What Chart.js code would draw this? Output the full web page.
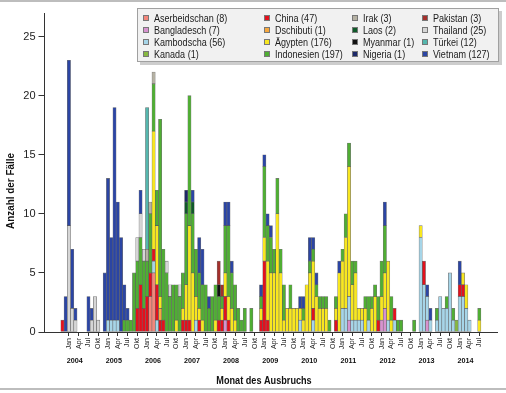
<!DOCTYPE html>
<html lang="de">
<head>
<meta charset="utf-8">
<title>Humane H5N1-Fälle nach Monat des Ausbruchs</title>
<script src="https://cdn.jsdelivr.net/npm/chart.js@4.4.1/dist/chart.umd.min.js"></script>
<style>
  html, body { margin:0; padding:0; background:#fff; }
  .wrap { position:relative; width:506px; height:393px; overflow:hidden; font-family:"Liberation Sans", Arial, sans-serif; }
  .wrap canvas { position:absolute; left:0; top:0; }
  .rule { position:absolute; left:0; width:506px; height:2px; background:#bdbdbd; }
  .legend { position:absolute; left:137px; top:8px; width:360px; height:52px; background:#f1f1f1; border:1px solid #a0a0a0; box-shadow:3px 3px 0 #cdcdcd; }
  .item { position:absolute; height:12px; line-height:12px; font-size:10.5px; color:#1a1a1a; white-space:nowrap; }
  .sw { position:absolute; left:0; top:3px; width:6px; height:6px; border:1px solid #777; box-sizing:border-box; }
  .txt { position:absolute; left:11px; top:0; transform:scaleX(0.86); transform-origin:left center; }
</style>
</head>
<body>
<div class="wrap">
  <canvas id="chart" width="506" height="393"></canvas>
  <div class="rule" style="top:0"></div>
  <div class="rule" style="top:388px"></div>
  <div class="legend" id="legend"></div>
</div>
<script>
// ---------- Data (cases per month of outbreak) ----------
const countries = ['Aserbeidschan','Bangladesch','Kambodscha','Kanada','China','Dschibuti','Ägypten','Indonesien',
                   'Irak','Laos','Myanmar','Nigeria','Pakistan','Thailand','Türkei','Vietnam'];
const caseCounts = [8, 7, 56, 1, 47, 1, 176, 197, 3, 2, 1, 1, 3, 25, 12, 127];
const colors = ['#f3867a','#d792cf','#a6d5e8','#86b840','#e3111d','#f7a83e','#f8e71f','#4fae33',
                '#b5b1a3','#0f5a2a','#111111','#1c2868','#a3302c','#d6d6d6','#55b7ae','#2b45a4'];

const aserbeidschan = [['2006-02',3],['2006-03',5]];
const bangladesch = [['2008-01',1],['2011-03',1],['2012-01',1],['2012-02',2],['2013-03',1]];
const kambodscha = [['2005-01',1],['2005-02',1],['2005-03',1],['2005-04',1],['2006-03',1],['2006-04',1],['2007-04',1],
  ['2009-12',1],['2010-04',1],['2011-01',2],['2011-02',2],['2011-03',2],['2011-04',1],['2011-05',1],['2011-06',1],
  ['2011-07',1],['2011-09',1],['2012-03',1],['2012-05',1],['2013-01',8],['2013-02',4],['2013-03',2],
  ['2013-04',1],['2013-06',1],['2013-07',3],['2013-08',2],['2013-09',2],['2013-10',5],['2013-11',1],
  ['2014-01',3],['2014-02',3],['2014-03',2],['2014-04',1]];
const kanada = [['2013-12',1]];
const china = [['2003-11',1],['2005-10',2],['2005-11',4],['2005-12',2],['2006-01',3],['2006-02',2],['2006-03',1],
  ['2006-04',3],['2006-05',1],['2006-06',1],['2006-12',1],['2007-01',1],['2007-02',1],['2007-05',1],['2007-11',1],
  ['2007-12',1],['2008-01',2],['2008-02',1],['2008-12',1],['2009-01',6],['2009-02',1],['2010-04',1],['2010-11',1],
  ['2011-12',1],['2012-05',1],['2013-02',2],['2014-01',1],['2014-02',1]];
const dschibuti = [['2006-05',1]];
const aegypten = [['2006-03',10],['2006-04',5],['2006-05',1],['2006-10',1],['2006-12',1],
  ['2007-01',3],['2007-02',8],['2007-03',5],['2007-04',2],['2007-05',1],['2007-06',1],['2007-10',1],['2007-12',1],
  ['2008-01',2],['2008-02',2],['2008-03',2],['2008-04',1],['2008-12',1],
  ['2009-01',2],['2009-02',5],['2009-03',5],['2009-04',5],['2009-05',10],['2009-06',5],['2009-07',1],['2009-08',2],
  ['2009-09',2],['2009-10',2],['2009-11',2],['2009-12',1],
  ['2010-01',1],['2010-02',4],['2010-03',5],['2010-04',4],['2010-05',3],['2010-06',2],['2010-07',2],['2010-08',2],
  ['2010-11',1],['2010-12',5],
  ['2011-01',4],['2011-02',6],['2011-03',11],['2011-04',3],['2011-05',4],['2011-06',1],['2011-07',1],['2011-08',2],
  ['2011-10',2],['2011-11',3],
  ['2012-01',2],['2012-02',3],['2012-03',5],['2012-04',1],['2013-01',1],['2014-02',1],['2014-03',2],['2014-07',1]];
const indonesien = [['2005-06',1],['2005-07',1],['2005-08',1],['2005-09',5],['2005-10',4],['2005-11',4],['2005-12',4],
  ['2006-01',3],['2006-02',5],['2006-03',4],['2006-04',3],['2006-05',15],['2006-06',6],['2006-07',5],['2006-08',3],
  ['2006-09',4],['2006-10',3],['2006-11',3],['2006-12',3],
  ['2007-01',6],['2007-02',11],['2007-03',5],['2007-04',4],['2007-05',3],['2007-06',3],['2007-07',4],['2007-08',2],
  ['2007-09',3],['2007-10',3],['2007-11',2],['2007-12',1],
  ['2008-01',4],['2008-02',6],['2008-03',3],['2008-04',3],['2008-05',2],['2008-06',1],['2008-07',2],['2008-09',2],['2008-12',1],
  ['2009-01',6],['2009-02',3],['2009-03',3],['2009-04',2],['2009-05',3],['2009-06',2],['2009-07',3],['2009-09',2],
  ['2010-01',1],['2010-03',1],['2010-04',1],['2010-05',1],['2010-06',1],['2010-07',1],['2010-08',1],['2010-09',1],['2010-11',1],
  ['2011-01',1],['2011-02',2],['2011-03',2],['2011-04',2],['2011-05',1],['2011-08',1],['2011-09',2],['2011-10',1],
  ['2011-11',1],['2011-12',2],
  ['2012-01',3],['2012-02',4],['2012-04',2],['2012-06',1],['2012-07',1],['2012-11',1],
  ['2013-06',1],['2013-09',1],['2013-11',1],['2014-07',1]];
const irak = [['2006-01',1],['2006-02',1],['2006-03',1]];
const laos = [['2007-01',1],['2007-03',1]];
const myanmar = [['2007-11',1]];
const nigeria = [['2007-01',1]];
const pakistan = [['2007-11',2],['2007-12',1]];
const thailand = [['2004-01',9],['2004-02',2],['2004-03',1],['2004-08',1],['2004-09',3],['2004-10',1],
  ['2005-10',2],['2005-11',2],['2005-12',1],['2006-07',1],['2006-08',1],['2006-11',1]];
const tuerkei = [['2006-01',12]];
const vietnam = [['2003-12',3],['2004-01',14],['2004-02',5],['2004-03',1],['2004-07',3],['2004-08',1],['2004-12',5],
  ['2005-01',12],['2005-02',7],['2005-03',18],['2005-04',10],['2005-05',8],['2005-06',3],['2005-07',1],['2005-11',2],
  ['2007-03',1],['2007-05',3],['2007-06',3],['2007-08',1],['2008-01',2],['2008-02',2],['2008-03',1],['2008-12',1],
  ['2009-01',1],['2009-02',1],['2009-03',1],['2009-12',1],['2010-01',1],['2010-03',2],['2010-04',1],['2010-05',1],
  ['2010-12',1],['2012-02',2],['2013-03',1],['2013-04',1],['2014-01',2]];

const series = [aserbeidschan, bangladesch, kambodscha, kanada, china, dschibuti, aegypten, indonesien,
                irak, laos, myanmar, nigeria, pakistan, thailand, tuerkei, vietnam];

// axis: Jun 2003 .. Dec 2014, labelled quarterly from Jan 2004 to Jul 2014
const axisStart = [2003, 6];
const axisEnd = [2014, 12];
const quarterNames = {1:'Jan', 4:'Apr', 7:'Jul', 10:'Okt'};
const years = [2004, 2005, 2006, 2007, 2008, 2009, 2010, 2011, 2012, 2013, 2014];
const firstTick = '2004-01', lastTick = '2014-07';

// ---------- Build ----------
const monthKeys = [];
for (let y = axisStart[0], m = axisStart[1]; y < axisEnd[0] || (y === axisEnd[0] && m <= axisEnd[1]); ){
  monthKeys.push(`${y}-${String(m).padStart(2,'0')}`);
  m++; if (m > 12){ m = 1; y++; }
}
const tickFrom = monthKeys.indexOf(firstTick), tickTo = monthKeys.indexOf(lastTick);
const isTick = (i)=> i >= tickFrom && i <= tickTo && quarterNames[Number(monthKeys[i].slice(5))];

function dense(pairs){
  const a = monthKeys.map(()=>null);
  pairs.forEach(([k,v])=>{ a[monthKeys.indexOf(k)] = v; });
  return a;
}

// HTML legend, column-wise 4x4 like the original
const legendCols = [5, 125.5, 213.5, 283.5];
const legendRows = [2.5, 15, 26.5, 38.5];
const legendEl = document.getElementById('legend');
countries.forEach((name, i)=>{
  const it = document.createElement('div');
  it.className = 'item';
  it.style.left = legendCols[Math.floor(i/4)] + 'px';
  it.style.top = legendRows[i%4] + 'px';
  it.innerHTML = `<span class="sw" style="background:${colors[i]}"></span><span class="txt">${name} (${caseCounts[i]})</span>`;
  legendEl.appendChild(it);
});

function narrowText(ctx, text, x, y, k, rot){
  ctx.save();
  ctx.translate(x, y);
  if (rot) ctx.rotate(rot);
  ctx.scale(k, 1);
  ctx.fillText(text, 0, 0);
  ctx.restore();
}

const axisText = {
  id: 'axisText',
  afterDraw(chart){
    const {ctx} = chart;
    const x = chart.scales.x;
    const step = x.getPixelForValue(1) - x.getPixelForValue(0);
    ctx.save();
    ctx.fillStyle = '#111';
    ctx.textAlign = 'center';
    ctx.textBaseline = 'middle';
    ctx.font = 'bold 8px "Liberation Sans", Arial, sans-serif';
    years.forEach(yr=>{
      const i = monthKeys.indexOf(`${yr}-01`);
      narrowText(ctx, String(yr), x.getPixelForValue(i) + 1.8*step, 361, 0.9);
    });
    ctx.font = 'bold 11px "Liberation Sans", Arial, sans-serif';
    narrowText(ctx, 'Monat des Ausbruchs', 264, 381, 0.83);
    narrowText(ctx, 'Anzahl der Fälle', 11, 191, 0.9, -Math.PI/2);
    ctx.restore();
  }
};

Chart.defaults.font.family = '"Liberation Sans", Arial, sans-serif';
Chart.defaults.color = '#222';

new Chart(document.getElementById('chart'), {
  type: 'bar',
  data: {
    labels: monthKeys,
    datasets: series.map((s, i)=>({
      label: countries[i],
      data: dense(s),
      backgroundColor: colors[i],
      borderColor: 'rgba(70,70,70,0.75)',
      borderWidth: 0.6,
      borderSkipped: false,
      barPercentage: 1,
      categoryPercentage: 1
    }))
  },
  options: {
    responsive: false,
    animation: false,
    devicePixelRatio: 1,
    layout: {padding: {top: 13, right: 7.4, left: 0, bottom: 0}},
    plugins: {legend: {display: false}, tooltip: {enabled: false}},
    scales: {
      x: {
        stacked: true,
        offset: true,
        afterFit: (s)=>{ s.height = 61; },
        grid: {
          offset: false,
          drawOnChartArea: false,
          tickLength: 4,
          tickColor: (c)=> isTick(c.index) ? '#333' : 'rgba(0,0,0,0)'
        },
        border: {color: '#333', width: 1},
        ticks: {
          autoSkip: false,
          maxRotation: 90,
          minRotation: 90,
          padding: 2,
          font: {size: 7},
          color: '#222',
          callback: (v, i)=> isTick(i) ? quarterNames[Number(monthKeys[i].slice(5))] : ''
        }
      },
      y: {
        stacked: true,
        min: 0,
        max: 27,
        afterFit: (s)=>{ s.width = 44.5; },
        afterBuildTicks: (s)=>{ s.ticks = s.ticks.filter(t=> t.value % 5 === 0); },
        grid: {drawOnChartArea: false, tickLength: 6, tickColor: '#333'},
        border: {color: '#333', width: 1},
        ticks: {stepSize: 5, padding: 3, font: {size: 11}, color: '#222'}
      }
    }
  },
  plugins: [axisText]
});
</script>
</body>
</html>
